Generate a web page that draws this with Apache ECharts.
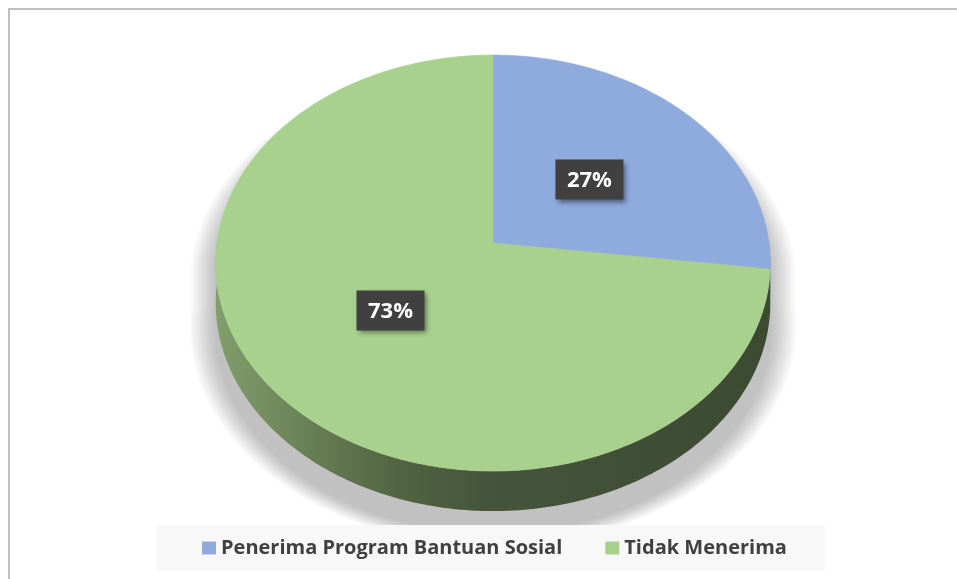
<!DOCTYPE html>
<html>
<head>
<meta charset="utf-8">
<script src="https://cdn.jsdelivr.net/npm/echarts@6.0.0/dist/echarts.min.js"></script>
<style>
  html, body { margin: 0; padding: 0; background: #fff; }
  #grafik { width: 957px; height: 579px; }
</style>
</head>
<body>
<div id="grafik"></div>
<script>
// data
var kategori = ['Penerima Program Bantuan Sosial', 'Tidak Menerima'];
var persen = [27, 73];
var warna = ['#8faadc', '#a9d18e'];
var warnaSisi = ['#4f5f7d', '#45543a'];

// geometri pie 3d (perspektif)
var cx = 493, cy = 243, K = 276, miring = 0.7467, persp = 0.0964, tebal = 40;

function proj(r, theta, dz) {
  // theta: derajat searah jarum jam dari atas
  var phi = (90 - theta) * Math.PI / 180;
  var X = r * Math.cos(phi), Y = r * Math.sin(phi);
  var w = 1 + persp * Y;
  return [cx + K * X / w, cy - K * miring * Y / w + (dz || 0)];
}

function busur(t0, t1, dz) {
  var pts = [];
  var n = Math.max(2, Math.ceil(Math.abs(t1 - t0)));
  for (var k = 0; k <= n; k++) {
    pts.push(proj(1, t0 + (t1 - t0) * k / n, dz));
  }
  return pts;
}

var total = persen.reduce(function (a, b) { return a + b; }, 0);

var gradSisi = new echarts.graphic.LinearGradient(216, 0, 770, 0, [
  { offset: 0, color: '#819e6c' },
  { offset: 0.26, color: '#5a6f4a' },
  { offset: 0.37, color: '#4d603f' },
  { offset: 0.5, color: '#45543a' },
  { offset: 1, color: '#3d4a32' }
], true);

function buatSeri(i) {
  return {
    type: 'custom',
    name: kategori[i],
    coordinateSystem: 'none',
    itemStyle: { color: warna[i] },
    data: [persen[i]],
    renderItem: function (params, api) {
      var awal = 0;
      for (var j = 0; j < i; j++) awal += persen[j];
      var t0 = awal / total * 360;
      var t1 = (awal + api.value(0)) / total * 360;
      var anak = [];

      // sisi depan
      var s0 = Math.max(t0, 90), s1 = Math.min(t1, 270);
      if (s1 > s0) {
        var atas = busur(s0, s1, 0);
        var bawah = busur(s0, s1, tebal).reverse();
        anak.push({
          type: 'polygon',
          shape: { points: atas.concat(bawah) },
          style: { fill: i === 1 ? gradSisi : warnaSisi[i], stroke: null }
        });
      }

      // muka atas
      var pts = [[cx, cy]].concat(busur(t0, t1, 0));
      anak.push({
        type: 'polygon',
        shape: { points: pts },
        style: { fill: warna[i], stroke: warna[i], lineWidth: 0.6 }
      });

      // label
      var tm = (t0 + t1) / 2;
      var p = proj(0.48, tm, 0);
      anak.push({
        type: 'rect',
        shape: { x: p[0] - 34, y: p[1] - 20, width: 68, height: 40 },
        style: {
          fill: '#404040',
          shadowBlur: 5, shadowOffsetX: 3, shadowOffsetY: 3,
          shadowColor: 'rgba(0,0,0,0.45)'
        }
      });
      anak.push({
        type: 'text',
        style: {
          text: persen[i] + '%',
          x: p[0], y: p[1] + 1,
          align: 'center', verticalAlign: 'middle',
          fill: '#ffffff',
          fontFamily: 'Open Sans', fontWeight: 'bold', fontSize: 22
        }
      });
      return { type: 'group', children: anak };
    }
  };
}

// bayangan lembut: beberapa lapis bentuk badan yang makin besar
var badan = busur(270, 450, 0).concat(busur(90, 270, tebal));
var bayangan = [];
for (var d = 2; d <= 26; d += 2) {
  var sx = (277 + d) / 277, sy = (228 + d * 0.5) / 228;
  bayangan.push({
    type: 'polygon', z: -5,
    shape: {
      points: badan.map(function (q) {
        return [cx + (q[0] - cx) * sx, 283 + (q[1] - 283) * sy + 22];
      })
    },
    style: { fill: 'rgba(0,0,0,0.023)' },
    silent: true
  });
}

var chart = echarts.init(document.getElementById('grafik'), null, { renderer: 'canvas' });
chart.setOption({
  animation: false,
  graphic: [
    {
      type: 'rect', z: -10,
      shape: { x: 9, y: 9, width: 970, height: 600 },
      style: { fill: null, stroke: '#c0c0c0', lineWidth: 2 }
    }
  ].concat(bayangan),
  legend: {
    data: kategori,
    left: 156, top: 525,
    icon: 'rect',
    itemWidth: 14, itemHeight: 13,
    itemGap: 43,
    padding: [13, 38, 13, 46],
    backgroundColor: '#f8f8f8',
    selectedMode: false,
    textStyle: {
      fontFamily: 'Open Sans', fontWeight: 'bold', fontSize: 20,
      color: '#404040'
    }
  },
  series: [buatSeri(0), buatSeri(1)]
});
</script>
</body>
</html>
